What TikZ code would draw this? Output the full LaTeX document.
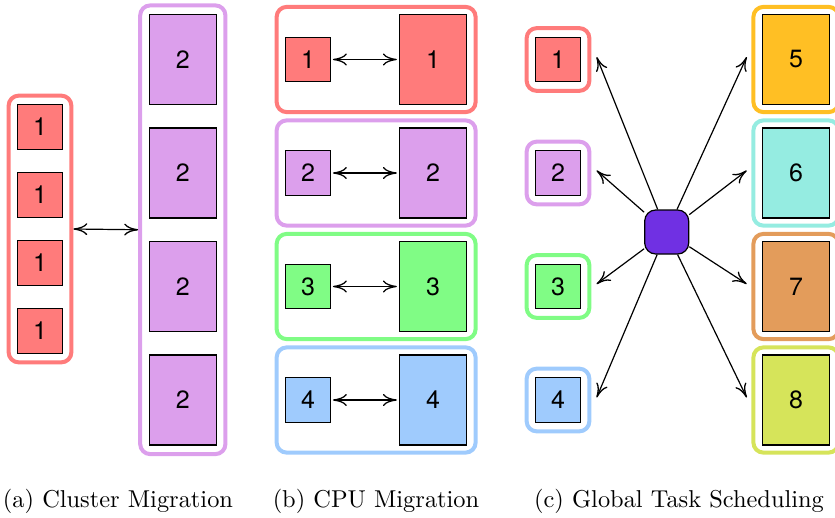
\documentclass[tikz,border=0pt]{standalone}
\usepackage{fontspec}
\setsansfont{TeX Gyre Heros}
\newfontfamily\capfont{lmroman10-regular.otf}
\usetikzlibrary{fit,arrows.meta}
\definecolor{cred}{HTML}{FF7B7B}
\definecolor{cpurple}{HTML}{DC9FEC}
\definecolor{cgreen}{HTML}{80FC85}
\definecolor{cblue}{HTML}{9FCBFD}
\definecolor{corange}{HTML}{FFBF24}
\definecolor{ccyan}{HTML}{95ECE1}
\definecolor{cbrown}{HTML}{E39C5B}
\definecolor{clime}{HTML}{D6E45A}
\definecolor{chub}{HTML}{7030E3}
\begin{document}
\begin{tikzpicture}[x=1pt,y=-1pt,
  task/.style={draw=black, line width=1.2pt, inner sep=0pt,
    font=\sffamily\fontsize{25}{30}\selectfont},
  small/.style={task, fill=#1, minimum width=44.5pt, minimum height=44.5pt},
  big/.style={task, fill=#1, minimum width=67pt, minimum height=90pt},
  frame/.style={draw=#1, line width=4pt, rounded corners=10pt, inner sep=8.5pt},
  wideframe/.style={frame=#1, inner xsep=8.5pt, inner ysep=7pt},
  link/.style={line width=1.2pt},
  >={Computer Modern Rightarrow[length=14pt,width=12pt,line width=1.3pt]},
  caption/.style={anchor=base, font=\capfont\fontsize{24.4}{29}\selectfont}]
\clip (0,0) rectangle (835,517);

% (a) cluster migration
\foreach \i/\y in {1/127,2/195,3/263,4/331}
  \node[small=cred] (a\i) at (40,\y) {1};
\foreach \i/\y in {1/59.5,2/173,3/286.5,4/400}
  \node[big=cpurple] (A\i) at (182.8,\y) {2};
\node[frame=cred, fit=(a1)(a4)] (fa) {};
\node[frame=cpurple, fit=(A1)(A4)] (fA) {};
\draw[link,<->] (fa.east) -- (fA.west);
\node[caption] (capa) at (118,507) {(a) Cluster Migration};

% (b) CPU migration
\foreach \i/\y/\c in {1/59.5/cred,2/173/cpurple,3/286.5/cgreen,4/400/cblue}{
  \node[small=\c] (b\i) at (308,\y) {\i};
  \node[big=\c] (B\i) at (433,\y) {\i};
  \node[wideframe=\c, fit=(b\i)(B\i)] (fb\i) {};
  \draw[link,<->,shorten <=2pt,shorten >=2pt] (b\i.east) -- (B\i.west);
}
\node[caption] (capb) at (376,507) {(b) CPU Migration};

% (c) global task scheduling
\node[task, fill=chub, minimum width=44pt, minimum height=44pt,
  rounded corners=11pt] (hub) at (666.7,232) {};
\foreach \i/\y/\c in {1/59.5/cred,2/173/cpurple,3/286.5/cgreen,4/400/cblue}{
  \node[small=\c] (c\i) at (558,\y) {\i};
  \node[frame=\c, fit=(c\i)] (fc\i) {};
  \draw[link,->] (hub) -- ([xshift=5.3pt,yshift=2.5pt]fc\i.east);
}
\foreach \i/\y/\c in {5/59.5/corange,6/173/ccyan,7/286.5/cbrown,8/400/clime}{
  \node[big=\c] (C\i) at (796,\y) {\i};
  \node[wideframe=\c, fit=(C\i)] (fC\i) {};
  \draw[link,->] (hub) -- ([xshift=-4.7pt,yshift=2.5pt]fC\i.west);
}
\node[caption] (capc) at (679,507) {(c) Global Task Scheduling};
\end{tikzpicture}
\end{document}
